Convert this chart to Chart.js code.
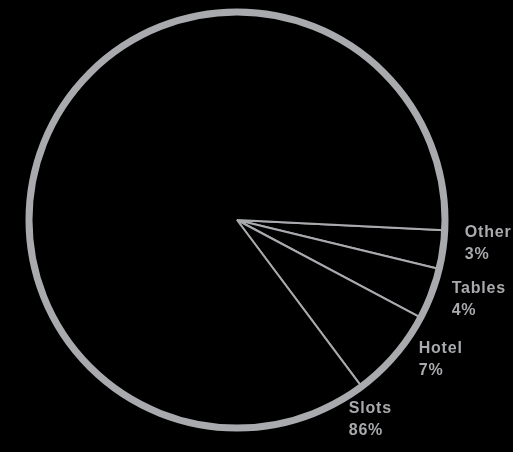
<!DOCTYPE html>
<html>
<head>
<meta charset="utf-8">
<script src="https://cdn.jsdelivr.net/npm/chart.js@4.4.1/dist/chart.umd.min.js"></script>
<style>
  html, body { margin: 0; padding: 0; background: #000; }
  #wrap { width: 513px; height: 452px; }
</style>
</head>
<body>
<div id="wrap"><canvas id="chart"></canvas></div>
<script>
// revenue split, clockwise from just below 3 o'clock
const segments = ['Other', 'Tables', 'Hotel', 'Slots'];
const shares = [3, 4, 7, 86];

const grey = '#a9aaae';

// outer rim + text labels outside the pie
const pieDecor = {
  id: 'pieDecor',
  afterDatasetsDraw(chart, args, opts) {
    const ctx = chart.ctx;
    const arcs = chart.getDatasetMeta(0).data;
    if (!arcs.length) return;
    const { x, y, outerRadius } = arcs[0];

    ctx.save();
    ctx.strokeStyle = grey;
    ctx.lineWidth = opts.rimWidth;
    ctx.beginPath();
    ctx.arc(x, y, outerRadius, 0, Math.PI * 2);
    ctx.stroke();

    ctx.fillStyle = grey;
    ctx.font = 'bold 16px "Liberation Sans", Arial, sans-serif';
    ctx.letterSpacing = '0.8px';
    ctx.textAlign = 'left';
    ctx.textBaseline = 'middle';
    const dist = outerRadius + opts.labelGap;
    arcs.forEach((arc, i) => {
      const a = opts.labelAngles[i] * Math.PI / 180;
      const lx = x + dist * Math.cos(a);
      const ly = y + dist * Math.sin(a);
      ctx.fillText(segments[i], lx, ly - 11);
      ctx.fillText(shares[i] + '%', lx, ly + 11);
    });
    ctx.restore();
  }
};

new Chart(document.getElementById('chart'), {
  type: 'pie',
  data: {
    labels: segments,
    datasets: [{
      data: shares,
      backgroundColor: '#000',
      borderColor: grey,
      borderWidth: 2,
      hoverOffset: 0,
      offset: 0
    }]
  },
  options: {
    responsive: true,
    maintainAspectRatio: false,
    animation: false,
    rotation: 92.8,
    layout: { padding: { left: 28, right: 67, top: 11, bottom: 23 } },
    plugins: {
      legend: { display: false },
      tooltip: { enabled: false },
      pieDecor: { rimWidth: 7, labelGap: 21, labelAngles: [5.9, 20.4, 37.5, 60.8] }
    }
  },
  plugins: [pieDecor]
});
</script>
</body>
</html>
